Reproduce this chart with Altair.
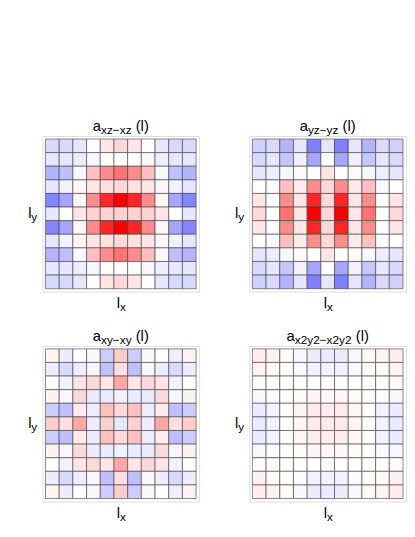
import altair as alt
import pandas as pd

# ---------------- data (11 x 11 grids, rows top -> bottom) ----------------
panel_names = ["xz\u2212xz", "yz\u2212yz", "xy\u2212xy", "x2y2\u2212x2y2"]

a_xz = [
    [-0.15, -0.15, -0.10, 0.00, 0.10, 0.15, 0.10, 0.00, -0.10, -0.15, -0.15],
    [-0.10, -0.10, -0.07, -0.03, 0.00, 0.00, 0.00, -0.03, -0.07, -0.10, -0.10],
    [-0.30, -0.25, -0.03, 0.25, 0.45, 0.55, 0.45, 0.25, -0.03, -0.25, -0.30],
    [-0.10, -0.05, 0.03, 0.10, 0.12, 0.15, 0.12, 0.10, 0.03, -0.05, -0.10],
    [-0.48, -0.35, 0.03, 0.45, 0.85, 1.00, 0.85, 0.45, 0.03, -0.35, -0.48],
    [-0.10, 0.00, 0.10, 0.18, 0.18, 0.18, 0.18, 0.18, 0.10, 0.00, -0.10],
    [-0.48, -0.35, 0.03, 0.45, 0.85, 1.00, 0.85, 0.45, 0.03, -0.35, -0.48],
    [-0.10, -0.05, 0.03, 0.10, 0.12, 0.15, 0.12, 0.10, 0.03, -0.05, -0.10],
    [-0.30, -0.25, -0.03, 0.25, 0.45, 0.55, 0.45, 0.25, -0.03, -0.25, -0.30],
    [-0.10, -0.10, -0.07, -0.03, 0.00, 0.00, 0.00, -0.03, -0.07, -0.10, -0.10],
    [-0.15, -0.15, -0.10, 0.00, 0.10, 0.15, 0.10, 0.00, -0.10, -0.15, -0.15],
]

a_yz = [
    [-0.18, -0.15, -0.30, -0.10, -0.50, -0.10, -0.50, -0.10, -0.30, -0.15, -0.18],
    [-0.15, -0.10, -0.22, -0.05, -0.35, 0.00, -0.35, -0.05, -0.22, -0.10, -0.15],
    [-0.10, -0.07, -0.03, 0.02, 0.00, 0.10, 0.00, 0.02, -0.03, -0.07, -0.10],
    [0.00, -0.02, 0.25, 0.08, 0.45, 0.15, 0.45, 0.08, 0.25, -0.02, 0.00],
    [0.10, 0.00, 0.45, 0.10, 0.85, 0.15, 0.85, 0.10, 0.45, 0.00, 0.10],
    [0.15, 0.00, 0.55, 0.10, 1.00, 0.15, 1.00, 0.10, 0.55, 0.00, 0.15],
    [0.10, 0.00, 0.45, 0.10, 0.85, 0.15, 0.85, 0.10, 0.45, 0.00, 0.10],
    [0.00, -0.02, 0.25, 0.08, 0.45, 0.15, 0.45, 0.08, 0.25, -0.02, 0.00],
    [-0.10, -0.07, -0.03, 0.02, 0.00, 0.10, 0.00, 0.02, -0.03, -0.07, -0.10],
    [-0.15, -0.10, -0.22, -0.05, -0.35, 0.00, -0.35, -0.05, -0.22, -0.10, -0.15],
    [-0.18, -0.15, -0.30, -0.10, -0.50, -0.10, -0.50, -0.10, -0.30, -0.15, -0.18],
]

a_xy = [
    [0.05, -0.07, 0.00, 0.03, -0.20, 0.20, -0.20, 0.03, 0.00, -0.07, 0.05],
    [-0.07, -0.15, -0.07, -0.03, -0.25, 0.12, -0.25, -0.03, -0.07, -0.15, -0.07],
    [0.00, -0.05, 0.10, 0.15, 0.10, 0.35, 0.10, 0.15, 0.10, -0.05, 0.00],
    [0.05, -0.03, 0.15, -0.08, -0.08, -0.05, -0.08, -0.08, 0.15, -0.03, 0.05],
    [-0.20, -0.25, 0.08, -0.07, 0.25, 0.15, 0.25, -0.07, 0.08, -0.25, -0.20],
    [0.20, 0.12, 0.35, -0.07, 0.18, -0.10, 0.18, -0.07, 0.35, 0.12, 0.20],
    [-0.20, -0.25, 0.08, -0.07, 0.25, 0.15, 0.25, -0.07, 0.08, -0.25, -0.20],
    [0.05, -0.03, 0.15, -0.08, -0.08, -0.05, -0.08, -0.08, 0.15, -0.03, 0.05],
    [0.00, -0.05, 0.10, 0.15, 0.10, 0.35, 0.10, 0.15, 0.10, -0.05, 0.00],
    [-0.07, -0.15, -0.07, -0.03, -0.25, 0.12, -0.25, -0.03, -0.07, -0.15, -0.07],
    [0.05, -0.07, 0.00, 0.03, -0.20, 0.20, -0.20, 0.03, 0.00, -0.07, 0.05],
]

a_x2y2 = [
    [0.08, 0.05, 0.02, -0.03, -0.08, -0.08, -0.08, -0.03, 0.02, 0.05, 0.08],
    [0.05, 0.02, 0.01, -0.02, -0.05, -0.05, -0.05, -0.02, 0.01, 0.02, 0.05],
    [0.02, 0.01, 0.01, 0.01, 0.00, 0.00, 0.00, 0.01, 0.01, 0.01, 0.02],
    [-0.03, -0.02, 0.01, 0.02, 0.04, 0.04, 0.04, 0.02, 0.01, -0.02, -0.03],
    [-0.08, -0.05, 0.00, 0.04, 0.08, 0.08, 0.08, 0.04, 0.00, -0.05, -0.08],
    [-0.08, -0.05, 0.00, 0.04, 0.08, 0.08, 0.08, 0.04, 0.00, -0.05, -0.08],
    [-0.08, -0.05, 0.00, 0.04, 0.08, 0.08, 0.08, 0.04, 0.00, -0.05, -0.08],
    [-0.03, -0.02, 0.01, 0.02, 0.04, 0.04, 0.04, 0.02, 0.01, -0.02, -0.03],
    [0.02, 0.01, 0.01, 0.01, 0.00, 0.00, 0.00, 0.01, 0.01, 0.01, 0.02],
    [0.05, 0.02, 0.01, -0.02, -0.05, -0.05, -0.05, -0.02, 0.01, 0.02, 0.05],
    [0.08, 0.05, 0.02, -0.03, -0.08, -0.08, -0.08, -0.03, 0.02, 0.05, 0.08],
]

grids = [a_xz, a_yz, a_xy, a_x2y2]

# ---------------- styling ----------------
W, H = 159, 158
FONT = "Liberation Sans"
MAIN, SUB = 15, 12
CW = {"a": 0.556, "x": 0.5, "y": 0.5, "z": 0.5, "2": 0.556, "\u2212": 0.584,
      " ": 0.278, "(": 0.333, ")": 0.333, "l": 0.222}


def tw(s, size):
    return sum(CW.get(c, 0.55) for c in s) * size


color_scale = alt.Scale(domain=[-1, 0, 1], range=["#0000ff", "#ffffff", "#ff0000"],
                        interpolate="rgb")


def txt(text, x, y, size, align="left"):
    return alt.Chart(pd.DataFrame({"t": [text]})).mark_text(
        text=text, font=FONT, fontSize=size, align=align, baseline="alphabetic", color="black"
    ).encode(x=alt.value(x), y=alt.value(y))


def panel(name, grid):
    rows = []
    for r, line in enumerate(grid):
        for c, v in enumerate(line):
            rows.append({"row": r, "col": c, "value": v})
    df = pd.DataFrame(rows)
    heat = alt.Chart(df).mark_rect(stroke="#3c3c3c", strokeWidth=0.6).encode(
        x=alt.X("col:O", axis=None, scale=alt.Scale(paddingOuter=0.22, paddingInner=0)),
        y=alt.Y("row:O", axis=None, scale=alt.Scale(paddingOuter=0.22, paddingInner=0)),
        color=alt.Color("value:Q", scale=color_scale, legend=None),
    )
    total = tw("a", MAIN) + tw(name, SUB) + tw(" (l)", MAIN)
    x0 = W / 2 - total / 2
    t1 = txt("a", x0, -5, MAIN)
    t2 = txt(name, x0 + tw("a", MAIN), -2, SUB)
    t3 = txt("(l)", x0 + tw("a", MAIN) + tw(name, SUB) + tw(" ", MAIN), -5, MAIN)
    y1 = txt("l", -14.5, H / 2 + 4, MAIN)
    y2 = txt("y", -11.3, H / 2 + 7, SUB)
    lx = W / 2 - 4
    x1 = txt("l", lx, H + 17, MAIN)
    x2 = txt("x", lx + 3.3, H + 20, SUB)
    return alt.layer(heat, t1, t2, t3, y1, y2, x1, x2).properties(width=W, height=H)


p = [panel(n, g) for n, g in zip(panel_names, grids)]

chart = alt.concat(
    *p, columns=2, spacing=alt.RowColnumber(row=55, column=51), bounds="flush"
).properties(
    padding={"left": 20, "top": 108, "right": 0, "bottom": 5}
).configure_view(
    stroke="#b4b4b4", strokeWidth=1.6
).configure(background="white")

chart.save("out.html", embed_options={"renderer": "svg", "actions": False})
